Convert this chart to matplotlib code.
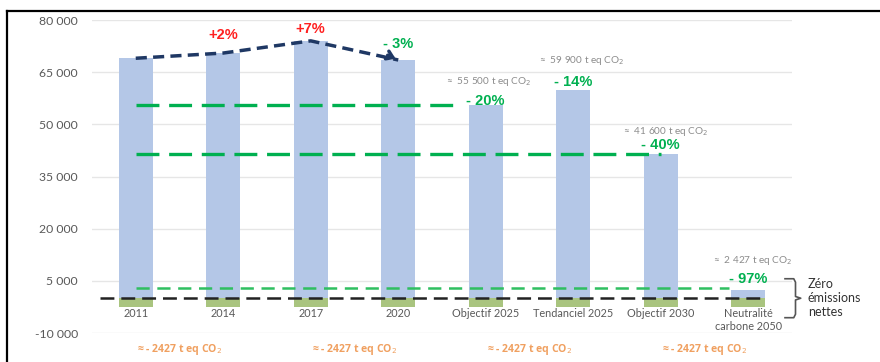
import matplotlib.pyplot as plt
from matplotlib.lines import Line2D

plt.rcParams['font.family'] = ['Lato', 'DejaVu Sans']
plt.rcParams['lines.scale_dashes'] = False

# data
categories = ["2011", "2014", "2017", "2020", "Objectif 2025", "Tendanciel 2025",
              "Objectif 2030", "Neutralité\ncarbone 2050"]
emissions = [69000, 70500, 74000, 68500, 55500, 59900, 41600, 2427]
sequestration = [-2427] * 8
trend_pct = ["+2%", "+7%", "- 3%"]
target_pct = ["- 20%", "- 14%", "- 40%", "- 97%"]
target_notes = ["≈  55 500 t eq CO$_2$", "≈  59 900 t eq CO$_2$",
                "≈  41 600 t eq CO$_2$", "≈  2 427 t eq CO$_2$"]
target_levels = [55500, 41600, 2800]
target_ends = [3.66, 6.0, 6.78]
yticks = [-10000, 5000, 20000, 35000, 50000, 65000, 80000]
ytick_labels = ["-10 000", "5 000", "20 000", "35 000", "50 000", "65 000", "80 000"]
seq_note = "≈ - 2427 t eq CO$_2$"

blue = "#b4c7e7"
green_bar = "#a9c47f"
green = "#00b050"
navy = "#1f3864"
grey = "#595959"

fig = plt.figure(figsize=(8.8, 3.62), dpi=100)
ax = fig.add_axes([92 / 880, 1 - 333 / 362, 700 / 880, 313 / 362])

x = list(range(len(categories)))
ax.bar(x, emissions, width=0.39, color=blue, zorder=2)
ax.bar(x, sequestration, width=0.39, color=green_bar, zorder=2)

ax.set_xlim(-0.5, 7.5)
ax.set_ylim(-10000, 80000)
ax.set_yticks(yticks)
ax.set_yticklabels(ytick_labels, color=grey, fontsize=8.8)
ax.set_xticks([])
ax.tick_params(axis='y', length=0, pad=10)
ax.grid(axis='y', color="#e6e6e6", lw=1, zorder=0)
for s in ax.spines.values():
    s.set_visible(False)

# category labels under the zero line
for i, c in enumerate(categories):
    ax.text(i, -2700, c, ha='center', va='top', fontsize=7.8, color=grey,
            linespacing=1.25, clip_on=False)

# trend line 2011 -> 2020
ax.plot(x[:4], emissions[:4], color=navy, lw=2.5, dashes=(8, 4.5), zorder=4,
        solid_capstyle='butt')
ax.annotate("", xy=(3, emissions[3]), xytext=(2.85, emissions[3] + 1700),
            arrowprops=dict(arrowstyle="->,head_length=0.45,head_width=0.3",
                            color=navy, lw=2.5), zorder=5)

# target lines
ax.plot([0, target_ends[0]], [target_levels[0]] * 2, color=green, lw=2.4,
        dashes=(16.5, 7), zorder=3)
ax.plot([0, target_ends[1]], [target_levels[1]] * 2, color=green, lw=2.4,
        dashes=(16.5, 7), zorder=3)
ax.plot([0, target_ends[2]], [target_levels[2]] * 2, color="#2fbf60", lw=1.8,
        dashes=(9.5, 5.5), zorder=3)
ax.plot([-0.41, 7.16], [0, 0], color="#222222", lw=1.8, dashes=(10, 5), zorder=3)

# percentages
trend_y = [75700, 77400, 73000]
trend_col = ["#ff2020", "#ff2020", green]
for i in range(3):
    ax.text(i + 1, trend_y[i], trend_pct[i], ha='center', va='center',
            fontsize=10.5, fontweight='bold', color=trend_col[i],
            family='Liberation Sans')

pct_y = [56600, 62300, 44000, 5600]
note_y = [62300, 68300, 47800, 10900]
note_x = [4.03, 5.09, 6.05, 7.05]
for k in range(4):
    ax.text(4 + k, pct_y[k], target_pct[k], ha='center', va='center',
            fontsize=10.5, fontweight='bold', color=green,
            family='Liberation Sans')
    ax.text(note_x[k], note_y[k], target_notes[k], ha='center', va='center',
            fontsize=7.2, color="#8c8c8c")

# sequestration notes
for xs in [0.5, 2.5, 4.5, 6.5]:
    ax.text(xs, -14800, seq_note, ha='center', va='center', fontsize=7.6,
            fontweight='bold', color="#f0a060", clip_on=False,
            family=['Open Sans', 'DejaVu Sans'])

# brace and "Zéro émissions nettes"
bx = [7.42, 7.52, 7.54, 7.54, 7.6, 7.54, 7.54, 7.52, 7.42]
by = [5600, 5600, 4600, 500, 0, -500, -4600, -5600, -5600]
ax.plot(bx, by, color="#555555", lw=1.2, clip_on=False)
ax.text(7.68, 0, "Zéro\némissions\nnettes", ha='left', va='center',
        fontsize=9, color="#333333", linespacing=1.2, clip_on=False)

# outer frame (top and left)
fig.add_artist(Line2D([7 / 880, 1], [1 - 11 / 362] * 2, color='black', lw=1.6))
fig.add_artist(Line2D([7 / 880] * 2, [0, 1 - 11 / 362], color='black', lw=1.6))

fig.savefig("out.png", dpi=100)
